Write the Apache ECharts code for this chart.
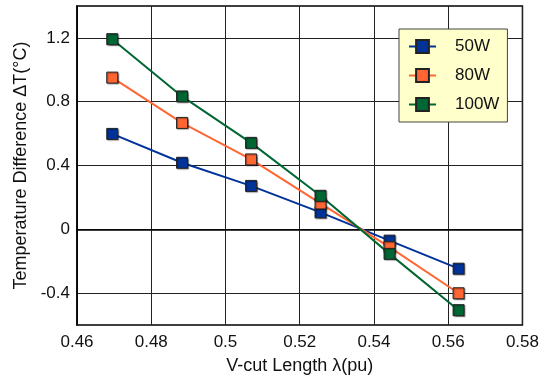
<!DOCTYPE html>
<html>
<head>
<meta charset="utf-8">
<script src="https://cdn.jsdelivr.net/npm/echarts@6/dist/echarts.min.js"></script>
<style>html,body{margin:0;padding:0;background:#fff;}#c{width:542px;height:380px;}</style>
</head>
<body>
<div id="c"></div>
<script>
var xValues = [0.4695, 0.4883, 0.5069, 0.5256, 0.5442, 0.5628];
var seriesNames = ['50W', '80W', '100W'];
var s50 = [0.598, 0.417, 0.272, 0.106, -0.071, -0.247];
var s80 = [0.951, 0.667, 0.438, 0.162, -0.112, -0.401];
var s100 = [1.192, 0.833, 0.542, 0.210, -0.154, -0.507];
var colors = ['#003399', '#ff6633', '#006633'];
var xTitle = 'V-cut Length \u03bb(pu)';
var yTitle = 'Temperature Difference \u0394T(\u00b0C)';

var FONT = "'Liberation Sans', Arial, sans-serif";
function pairs(ys) { return xValues.map(function (x, i) { return [x, ys[i]]; }); }
function mkSeries(name, ys, color) {
  return {
    name: name, type: 'line', data: pairs(ys),
    symbol: 'rect', symbolSize: 11,
    lineStyle: { color: color, width: 2 },
    itemStyle: { color: color, borderColor: '#222', borderWidth: 1,
      shadowColor: 'rgba(0,0,0,0.35)', shadowBlur: 1, shadowOffsetX: 1, shadowOffsetY: 1 },
    emphasis: { disabled: true },
    animation: false
  };
}
var chart = echarts.init(document.getElementById('c'), null, { renderer: 'canvas' });
chart.setOption({
  backgroundColor: '#fff',
  animation: false,
  textStyle: { fontFamily: FONT },
  grid: { left: 77, right: 17, top: 6, bottom: 52, show: true, borderColor: '#000', borderWidth: 1.5, backgroundColor: '#fff' },
  legend: {
    orient: 'vertical', left: 399, top: 29,
    data: seriesNames,
    backgroundColor: '#ffffcc', borderColor: '#444', borderWidth: 1,
    padding: [9, 8, 9, 9],
    itemWidth: 27, itemHeight: 16, itemGap: 12,
    textStyle: { fontSize: 17, color: '#111', fontFamily: FONT, padding: [0, 0, 0, 14] }
  },
  xAxis: {
    type: 'value', min: 0.46, max: 0.58, interval: 0.02,
    name: xTitle, nameLocation: 'middle', nameGap: 32,
    nameTextStyle: { fontSize: 18, color: '#111', fontFamily: FONT },
    axisLine: { show: true, lineStyle: { color: '#000', width: 1.5 } },
    axisTick: { show: false },
    axisLabel: { fontSize: 17, color: '#111', margin: 9, fontFamily: FONT,
      formatter: function (v) { return String(Math.round(v * 100) / 100); } },
    splitLine: { show: true, lineStyle: { color: '#222', width: 1 } }
  },
  yAxis: {
    type: 'value', min: -0.6, max: 1.4, interval: 0.2,
    name: yTitle, nameLocation: 'middle', nameGap: 46,
    nameTextStyle: { fontSize: 18, color: '#111', fontFamily: FONT },
    axisLine: { show: true, lineStyle: { color: '#000', width: 1.5 } },
    axisTick: { show: false },
    axisLabel: { fontSize: 17, color: '#111', margin: 7, fontFamily: FONT,
      formatter: function (v) {
        var q = v / 0.4;
        if (Math.abs(q - Math.round(q)) > 1e-6) return '';
        var r = Math.round(v * 10) / 10;
        return r === 0 ? '0' : String(r);
      } },
    splitLine: { show: true, lineStyle: { color: ['transparent', '#222'], width: 1 } }
  },
  series: [mkSeries(seriesNames[0], s50, colors[0]), mkSeries(seriesNames[1], s80, colors[1]), mkSeries(seriesNames[2], s100, colors[2])]
});
</script>
</body>
</html>
